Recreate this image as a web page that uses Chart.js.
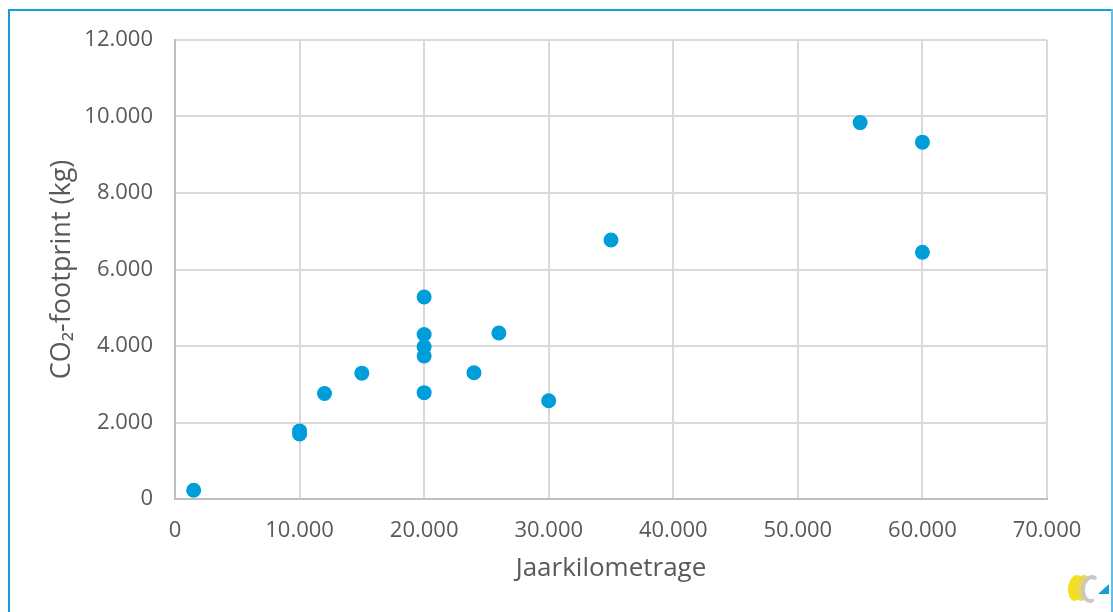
<!DOCTYPE html>
<html>
<head>
<meta charset="utf-8">
<script src="https://cdn.jsdelivr.net/npm/chart.js@4/dist/chart.umd.min.js"></script>
<style>
  html, body { margin: 0; padding: 0; background: #ffffff; }
  canvas { display: block; }
</style>
</head>
<body>
<canvas id="chart" width="1113" height="612"></canvas>
<script>
// Annual mileage (km) per vehicle and its yearly CO2 footprint (kg)
const jaarkilometrage = [1500, 10000, 10000, 12000, 15000, 20000, 20000, 20000, 20000, 20000, 24000, 26000, 30000, 35000, 55000, 60000, 60000];
const co2Footprint   = [230, 1780, 1700, 2760, 3290, 5280, 4300, 3980, 3740, 2780, 3300, 4340, 2570, 6770, 9840, 9330, 6450];

// Axis ticks and their printed labels
const xTickValues = [0, 10000, 20000, 30000, 40000, 50000, 60000, 70000];
const xTickLabels = ['0', '10.000', '20.000', '30.000', '40.000', '50.000', '60.000', '70.000'];
const yTickValues = [0, 2000, 4000, 6000, 8000, 10000, 12000];
const yTickLabels = ['0', '2.000', '4.000', '6.000', '8.000', '10.000', '12.000'];

const xAxisTitle = 'Jaarkilometrage';
const yAxisTitle = 'CO\u2082-footprint (kg)';

const FONT = '"Open Sans", "Noto Sans", sans-serif';
const TEXT = '#595959';
const BLUE = '#009ddb';

// Crescent: left half of an outer ellipse minus an inner one
function crescent(ctx, cx, cy, rx, ry, inset, color) {
  ctx.fillStyle = color;
  ctx.beginPath();
  ctx.ellipse(cx, cy, rx, ry, 0.12, Math.PI * 0.5, Math.PI * 1.5, false);
  ctx.ellipse(cx + inset, cy, rx - inset, ry - 1.5, 0.12, Math.PI * 1.5, Math.PI * 0.5, true);
  ctx.closePath();
  ctx.fill();
}

// Page frame and the small logo in the lower right corner
const framePlugin = {
  id: 'frame',
  beforeDraw(chart) {
    const ctx = chart.ctx;
    ctx.save();
    ctx.fillStyle = '#ffffff';
    ctx.fillRect(0, 0, chart.width, chart.height);
    ctx.restore();
  },
  afterDraw(chart) {
    const ctx = chart.ctx;
    ctx.save();
    ctx.fillStyle = '#12a0dc';
    ctx.fillRect(8, 9, 1105, 2);
    ctx.fillRect(8, 9, 2, 603);
    ctx.fillStyle = '#5cc0ea';
    ctx.fillRect(1111, 9, 2, 603);

    // logo: two yellow crescents, a grey open ring and a blue triangle
    crescent(ctx, 1076, 588, 8, 13, 4, '#f4e01a');
    crescent(ctx, 1083, 588, 8, 13, 4, '#ecd94a');
    ctx.lineCap = 'round';
    ctx.lineWidth = 4;
    ctx.strokeStyle = '#c8c8c8';
    ctx.beginPath();
    ctx.ellipse(1091, 589, 8, 12, 0.12, Math.PI * 0.4, Math.PI * 1.6);
    ctx.stroke();
    ctx.fillStyle = '#12a0dc';
    ctx.beginPath();
    ctx.moveTo(1098, 594);
    ctx.lineTo(1109, 594);
    ctx.lineTo(1109, 584);
    ctx.closePath();
    ctx.fill();
    ctx.restore();
  }
};

const points = jaarkilometrage.map((x, i) => ({ x: x, y: co2Footprint[i] }));

new Chart(document.getElementById('chart'), {
  type: 'scatter',
  data: {
    datasets: [{
      data: points,
      backgroundColor: BLUE,
      borderWidth: 0,
      pointRadius: 7.5,
      pointHoverRadius: 7.5
    }]
  },
  options: {
    responsive: false,
    animation: false,
    events: [],
    layout: { padding: { left: 0, top: 40, right: 66, bottom: 0 } },
    plugins: {
      legend: { display: false },
      tooltip: { enabled: false }
    },
    scales: {
      x: {
        type: 'linear',
        min: 0,
        max: 70000,
        afterBuildTicks: s => { s.ticks = xTickValues.map(v => ({ value: v })); },
        afterFit: s => { s.height = 113; },
        ticks: {
          padding: 19,
          color: TEXT,
          font: { family: FONT, size: 22 },
          maxRotation: 0,
          callback: (v, i) => xTickLabels[i]
        },
        grid: { color: '#d9d9d9', lineWidth: 2, drawTicks: false },
        border: { color: '#bfbfbf', width: 2 },
        title: {
          display: true,
          text: xAxisTitle,
          color: TEXT,
          font: { family: FONT, size: 26 },
          padding: { top: 0, bottom: 28 }
        }
      },
      y: {
        type: 'linear',
        min: 0,
        max: 12000,
        afterBuildTicks: s => { s.ticks = yTickValues.map(v => ({ value: v })); },
        afterFit: s => { s.width = 175; },
        ticks: {
          padding: 22,
          color: TEXT,
          font: { family: FONT, size: 22 },
          callback: (v, i) => yTickLabels[i]
        },
        grid: { color: '#d9d9d9', lineWidth: 2, drawTicks: false },
        border: { color: '#bfbfbf', width: 2 },
        title: {
          display: true,
          text: yAxisTitle,
          color: TEXT,
          font: { family: FONT, size: 27 },
          padding: { top: 46, bottom: 0 }
        }
      }
    }
  },
  plugins: [framePlugin]
});
</script>
</body>
</html>
